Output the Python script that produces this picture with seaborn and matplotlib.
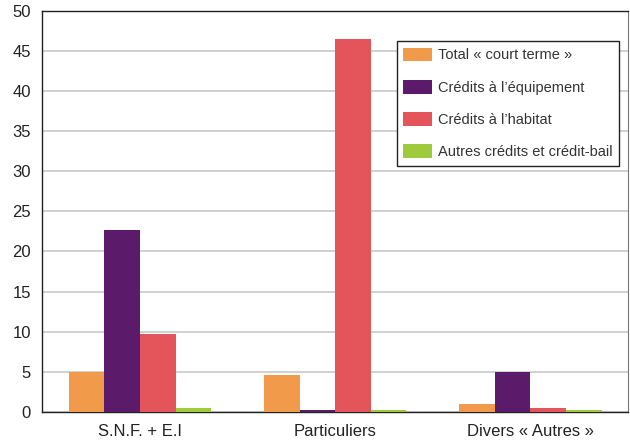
import pandas as pd
import seaborn as sns
from matplotlib import pyplot as plt

categories = ["S.N.F. + E.I", "Particuliers", "Divers « Autres »"]
series = ["Total « court terme »", "Crédits à l’équipement",
          "Crédits à l’habitat", "Autres crédits et crédit-bail"]
court_terme = [4.9, 4.6, 1.0]
equipement = [22.7, 0.15, 5.0]
habitat = [9.7, 46.5, 0.5]
autres = [0.4, 0.15, 0.15]
colors = ["#F09A4A", "#5C1A6A", "#E3545B", "#9ECB3C"]

rows = []
for name, vals in zip(series, [court_terme, equipement, habitat, autres]):
    for cat, v in zip(categories, vals):
        rows.append({"cat": cat, "serie": name, "val": v})
df = pd.DataFrame(rows)

sns.set_style("white")
plt.rcParams["font.family"] = ["Liberation Sans", "DejaVu Sans"]

fig, ax = plt.subplots(figsize=(6.3, 4.46), dpi=100)
fig.subplots_adjust(left=0.067, right=0.997, top=0.975, bottom=0.077)

sns.barplot(data=df, x="cat", y="val", hue="serie", palette=colors,
            width=0.73, saturation=1, linewidth=0, ax=ax, zorder=3)

ax.set_ylim(0, 50)
ax.set_yticks(range(0, 51, 5))
ax.set_xlim(-0.5, 2.5)
ax.yaxis.grid(True, color="#c8c8c8", linewidth=1.2, zorder=0)
ax.set_axisbelow(True)
ax.set_xlabel("")
ax.set_ylabel("")
ax.tick_params(axis="both", labelsize=12, length=0, colors="#222222")
ax.tick_params(axis="y", pad=8)
ax.tick_params(axis="x", pad=9)
for side in ["left", "bottom", "top"]:
    ax.spines[side].set_color("#222222")
    ax.spines[side].set_linewidth(1.0)
ax.spines["right"].set_color("#777777")

leg = ax.legend(loc="upper right", bbox_to_anchor=(0.985, 0.925), fontsize=10.5,
                frameon=True, fancybox=False, framealpha=1, edgecolor="#222222",
                handlelength=2.0, handleheight=1.05, labelspacing=1.2,
                borderpad=0.45, handletextpad=0.4, borderaxespad=0)
leg.get_frame().set_linewidth(1.0)
for t in leg.get_texts():
    t.set_color("#333333")

plt.savefig("out.png", dpi=100)
